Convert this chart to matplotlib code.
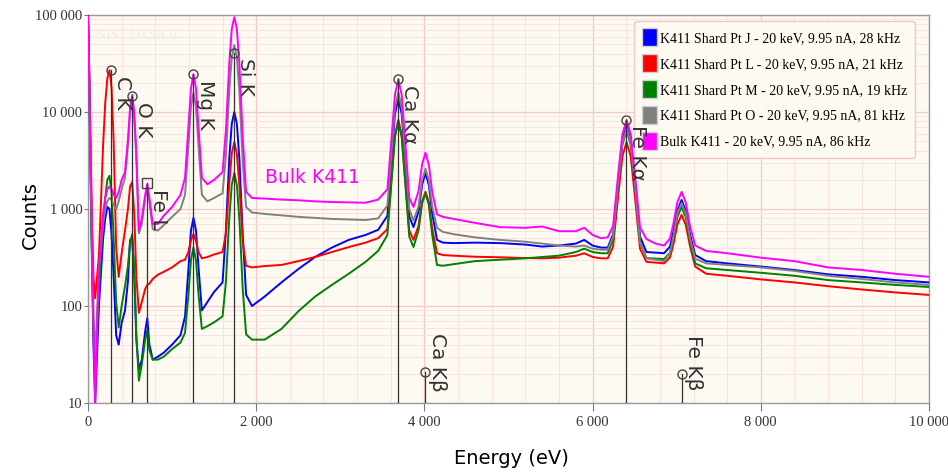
import matplotlib
matplotlib.use("Agg")
import matplotlib.pyplot as plt
from matplotlib.patches import Patch
from matplotlib.ticker import FixedLocator, MultipleLocator, FuncFormatter, LogLocator, NullFormatter

# =========================================
# DATA (counts)
# =========================================

energy_ev = [0, 15, 40, 65, 85, 130, 180, 205, 230, 255, 280, 305, 335, 365, 400, 440, 475, 500, 525, 550,
             575, 605, 640, 680, 705, 730, 770, 830, 900, 1000,
             1100, 1154, 1194, 1224, 1254, 1284, 1314, 1354, 1420, 1500, 1600, 1640, 1680, 1710, 1740, 1770,
             1800, 1840, 1880, 1950,
             2100, 2300, 2500, 2700, 2900, 3100, 3300, 3450,
             3560, 3610, 3650, 3690, 3730, 3770, 3820, 3870, 3930, 3973, 4013, 4053, 4093, 4150, 4220, 4350,
             4600, 4900, 5200, 5400, 5600, 5800, 5900, 6000, 6100, 6180,
             6244, 6304, 6354, 6404, 6454, 6504, 6564, 6640, 6750, 6850, 6920, 6958, 7008, 7058, 7108, 7158,
             7220, 7350,
             7600, 8000, 8400, 8800, 9200, 9600, 10000]

counts_pt_j = [100000, 25000, 800, 40, 10, 100, 500, 800, 1050, 1000, 550, 200, 50, 40, 67, 90, 180, 480, 500, 200,
               45, 22, 28, 55, 75, 40, 28, 30, 33, 40,
               50, 78, 240, 595, 810, 600, 250, 90, 110, 140, 175, 605, 3370, 7600, 10000, 7550, 3300, 540, 130, 100,
               125, 175, 240, 320, 400, 480, 540, 610,
               850, 3360, 9510, 13800, 9500, 3350, 840, 650, 935, 1780, 2350, 1760, 900, 480, 450, 445,
               450, 445, 430, 410, 420, 440, 480, 420, 400, 400,
               550, 1960, 5150, 7300, 5130, 1940, 520, 360, 355, 350, 410, 570, 970, 1240, 960, 550, 335, 290,
               275, 255, 235, 212, 200, 185, 175]

counts_pt_l = [100000, 25000, 1500, 200, 120, 330, 4650, 12400, 22200, 27000, 18000, 5000, 400, 200, 350, 600, 1000,
               1700, 1900, 900, 200, 85, 110, 150, 165, 170, 190, 210, 225, 250,
               290, 300, 360, 475, 550, 470, 360, 310, 320, 340, 360, 560, 1830, 3780, 4900, 3700, 1750, 460, 260, 250,
               258, 265, 290, 320, 360, 405, 450, 500,
               620, 2100, 5760, 8300, 5740, 2090, 600, 480, 670, 1200, 1500, 1180, 630, 350, 335, 330,
               322, 318, 312, 310, 315, 330, 350, 320, 310, 310,
               410, 1350, 3470, 4900, 3460, 1320, 390, 285, 280, 275, 317, 422, 690, 870, 685, 415, 255, 215,
               205, 188, 175, 160, 148, 138, 130]

counts_pt_m = [95000, 20000, 600, 50, 25, 150, 700, 1300, 2000, 2200, 1500, 500, 110, 60, 100, 160, 260, 450, 550, 250,
               50, 17, 25, 45, 56, 35, 28, 28, 30, 36,
               42, 53, 130, 296, 400, 295, 132, 58, 62, 68, 78, 178, 815, 1780, 2350, 1760, 790, 150, 51, 45,
               45, 58, 88, 125, 165, 215, 285, 370,
               540, 1990, 5540, 8000, 5530, 1970, 520, 405, 600, 1145, 1450, 1100, 540, 265, 260, 270,
               290, 300, 310, 320, 330, 360, 390, 360, 350, 350,
               485, 1740, 4580, 6500, 4570, 1720, 455, 312, 308, 305, 353, 487, 825, 1050, 820, 480, 275, 245,
               235, 220, 205, 185, 175, 165, 157]

counts_pt_o = [90000, 15000, 1000, 80, 30, 250, 700, 1000, 1200, 1300, 1250, 1100, 1000, 1200, 1600, 2100, 4500,
               9500, 13000, 8700, 3300, 560, 700, 1300, 1700, 1200, 620, 600, 680, 830,
               1000, 1400, 4550, 11350, 15800, 11300, 4500, 1400, 1200, 1300, 1450, 3550, 16800, 37200, 49000, 36800,
               16400, 3000, 1050, 920,
               890, 860, 830, 810, 790, 780, 770, 800,
               1085, 3980, 11100, 16000, 11000, 3900, 1000, 760, 1060, 1990, 2600, 1970, 1070, 640, 580, 550,
               510, 480, 460, 440, 420, 410, 420, 390, 380, 380,
               520, 1830, 4810, 6800, 4800, 1780, 450, 310, 300, 290, 350, 505, 900, 1150, 895, 500, 307, 275,
               265, 250, 230, 205, 190, 175, 165]

counts_bulk = [95000, 20000, 1500, 60, 10, 250, 900, 1300, 1600, 1700, 1600, 1400, 1300, 1500, 2000, 2400, 5200,
               11000, 15000, 10000, 3800, 600, 800, 1400, 1800, 1300, 700, 700, 850, 1050,
               1400, 2100, 7000, 17400, 24500, 17400, 7000, 2100, 1800, 2000, 2400, 6500, 32000, 72000, 95000, 72000,
               31000, 5500, 1500, 1300,
               1280, 1250, 1230, 1200, 1180, 1170, 1160, 1250,
               1600, 5500, 15100, 21800, 15000, 5300, 1300, 1050, 1520, 2900, 3800, 2850, 1500, 880, 830, 790,
               720, 650, 640, 660, 590, 590, 640, 540, 500, 510,
               670, 2260, 5880, 8300, 5860, 2240, 650, 490, 440, 420, 495, 685, 1180, 1500, 1170, 670, 420, 370,
               350, 315, 290, 250, 235, 215, 200]

series_labels = ["K411 Shard Pt J - 20 keV, 9.95 nA, 28 kHz",
                 "K411 Shard Pt L - 20 keV, 9.95 nA, 21 kHz",
                 "K411 Shard Pt M - 20 keV, 9.95 nA, 19 kHz",
                 "K411 Shard Pt O - 20 keV, 9.95 nA, 81 kHz",
                 "Bulk K411 - 20 keV, 9.95 nA, 86 kHz"]
series_colors = ["#0000ff", "#ff0000", "#008000", "#808080", "#ff00ff"]

# element lines: name, energy, marker height
line_names = ["C K", "O K", "Fe L", "Mg K", "Si K", "Ca Kα", "Ca Kβ", "Fe Kα", "Fe Kβ"]
line_energy = [277, 525, 705, 1254, 1740, 3690, 4013, 6400, 7058]
line_marker = [27000, 14500, 1850, 24500, 41000, 21800, 21, 8300, 20]
line_shape = ["o", "o", "s", "o", "o", "o", "o", "o", "o"]

x_ticks = [0, 2000, 4000, 6000, 8000, 10000]
y_ticks = [10, 100, 1000, 10000, 100000]

# =========================================
# FIGURE
# =========================================

fig = plt.figure(figsize=(9.48, 4.75), dpi=100)
ax = fig.add_axes([88 / 948, 72 / 475, 841 / 948, 388 / 475])
ax.set_facecolor("#fcfaf1")

all_counts = [counts_pt_j, counts_pt_l, counts_pt_m, counts_pt_o, counts_bulk]
for vals, col in zip(all_counts, series_colors):
    ax.plot(energy_ev, vals, color=col, lw=1.4, zorder=3)

ax.set_yscale("log")
ax.set_xlim(0, 10000)
ax.set_ylim(10, 100000)

# =========================================
# GRID / TICKS
# =========================================

ax.xaxis.set_major_locator(FixedLocator(x_ticks))
ax.xaxis.set_minor_locator(MultipleLocator(400))
ax.yaxis.set_major_locator(FixedLocator(y_ticks))
ax.yaxis.set_minor_locator(LogLocator(base=10, subs=range(2, 10)))
ax.yaxis.set_minor_formatter(NullFormatter())

fmt = FuncFormatter(lambda v, p: f"{int(round(v)):,}".replace(",", " "))
ax.xaxis.set_major_formatter(fmt)
ax.yaxis.set_major_formatter(fmt)

ax.grid(which="major", color="#f3c8c8", lw=0.9, zorder=0)
ax.grid(which="minor", color="#fae2e2", lw=0.7, zorder=0)
ax.set_axisbelow(True)

ax.tick_params(axis="x", which="major", length=6, color="#777777", labelsize=10.5)
ax.tick_params(axis="x", which="minor", length=0)
ax.tick_params(axis="y", which="major", length=3, color="#777777", labelsize=10.5, pad=1)
ax.tick_params(axis="y", which="minor", length=0)
for lab in ax.get_xticklabels() + ax.get_yticklabels():
    lab.set_family("Liberation Serif")
    lab.set_color("#333333")

for sp in ax.spines.values():
    sp.set_color("#999999")
    sp.set_linewidth(1.0)

# =========================================
# ELEMENT MARKERS
# =========================================

for name, e, m, shp in zip(line_names, line_energy, line_marker, line_shape):
    ax.plot([e, e], [10, m], color="#333333", lw=0.9, zorder=4)
    ax.plot([e], [m], marker=shp, ms=6.5, mfc="none", mec="#444444", mew=1.0, zorder=5)
    dy = 28 if m < 100 else -4
    ax.annotate(name, xy=(e, m), xytext=(1.5, dy), textcoords="offset points",
                rotation=-90, ha="left", va="top", fontsize=14.5, color="#333333", zorder=12)

ax.text(2675, 2100, "Bulk K411", color="#ff00ff", fontsize=13.5, ha="center", va="center", zorder=6)
ax.text(100, 62000, "NIST DTSA II", color="#f3ece3", fontsize=10, family="Liberation Serif",
        ha="left", va="center", zorder=1)

# =========================================
# LEGEND
# =========================================

handles = [Patch(facecolor=c, edgecolor="#d0d0d0") for c in series_colors]
leg = ax.legend(handles, series_labels, loc="upper right", bbox_to_anchor=(0.983, 0.985),
                prop={"family": "Liberation Serif", "size": 10},
                handlelength=1.1, handleheight=1.6, handletextpad=0.2, labelspacing=0.58,
                borderpad=0.55, borderaxespad=0.0, fancybox=True, framealpha=1.0)
leg.get_frame().set_facecolor("#fcfaf1")
leg.get_frame().set_edgecolor("#f3c8c8")
leg.set_zorder(10)

# =========================================
# AXIS LABELS
# =========================================

fig.text(30 / 948, 1 - 215 / 475, "Counts", rotation=90, ha="center", va="center", fontsize=14)
fig.text(511 / 948, 1 - 458 / 475, "Energy (eV)", ha="center", va="center", fontsize=14)

fig.savefig("out.png", dpi=100)
